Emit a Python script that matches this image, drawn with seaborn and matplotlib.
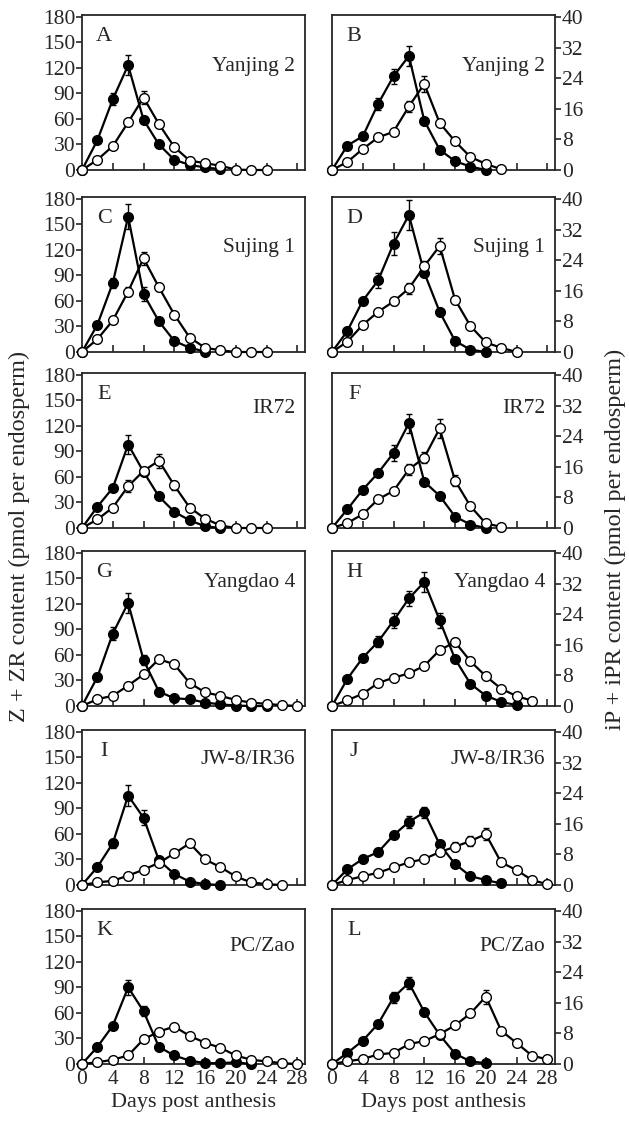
import numpy as np
import pandas as pd
import matplotlib
matplotlib.use("Agg")
import matplotlib.pyplot as plt
import seaborn as sns

# days post anthesis (every 2 days)
days = np.arange(0, 30, 2)

letters = ["A", "B", "C", "D", "E", "F", "G", "H", "I", "J", "K", "L"]
cultivars = ["Yanjing 2", "Sujing 1", "IR72", "Yangdao 4", "JW-8/IR36", "PC/Zao"]

# Z + ZR content (left column), filled = superior, open = inferior spikelets
zr_filled = {
    "Yanjing 2": [0, 35, 83, 123, 59, 30, 12, 6, 3, 1],
    "Sujing 1":  [0, 32, 81, 159, 68, 36, 13, 5, 0.5],
    "IR72":      [0, 25, 47, 98, 66, 37, 19, 9, 2, 0],
    "Yangdao 4": [0, 34, 85, 121, 54, 17, 9, 8, 4, 2, 0.5, 0, 0],
    "JW-8/IR36": [0, 21, 49, 105, 79, 29, 13, 4, 1, 0],
    "PC/Zao":    [0, 20, 45, 90, 62, 20, 10, 4, 1, 1, 2, 0],
}
zr_open = {
    "Yanjing 2": [0, 12, 28, 56, 85, 54, 27, 11, 8, 5, 0.5, 0, 0],
    "Sujing 1":  [0, 15, 37, 71, 110, 76, 44, 17, 5, 2, 0, 0, 0],
    "IR72":      [0, 10, 24, 49, 67, 79, 50, 24, 11, 3, 0, 0, 0],
    "Yangdao 4": [0, 8, 12, 24, 37, 55, 49, 27, 16, 12, 7, 4, 2.5, 1, 0],
    "JW-8/IR36": [0, 3, 5, 11, 18, 26, 37, 49, 30, 21, 10, 3, 1, 0],
    "PC/Zao":    [0, 2, 5, 10, 29, 38, 44, 33, 25, 19, 10, 5, 3, 1, 0],
}
zr_filled_err = {
    "Yanjing 2": [0, 2, 7, 12, 4, 0, 0, 0, 0, 0],
    "Sujing 1":  [0, 3, 6, 15, 8, 3, 0, 0, 0],
    "IR72":      [0, 0, 0, 11, 0, 0, 0, 0, 0, 0],
    "Yangdao 4": [0, 5, 8, 12, 6, 0, 0, 0, 0, 0, 0, 0, 0],
    "JW-8/IR36": [0, 0, 5, 12, 9, 0, 0, 0, 0, 0],
    "PC/Zao":    [0, 0, 0, 9, 6, 0, 0, 0, 0, 0, 0, 0],
}
zr_open_err = {
    "Yanjing 2": [0, 0, 0, 3, 8, 0, 0, 0, 0, 0, 0, 0, 0],
    "Sujing 1":  [0, 0, 0, 5, 8, 4, 3, 0, 0, 0, 0, 0, 0],
    "IR72":      [0, 0, 0, 7, 4, 8, 5, 4, 0, 0, 0, 0, 0],
    "Yangdao 4": [0] * 15,
    "JW-8/IR36": [0] * 14,
    "PC/Zao":    [0] * 15,
}

# iP + iPR content (right column)
ip_filled = {
    "Yanjing 2": [0, 6.4, 8.8, 17.3, 24.5, 29.8, 12.9, 5.3, 2.3, 0.9, 0],
    "Sujing 1":  [0, 5.5, 13.4, 18.7, 28.3, 35.8, 20.7, 10.5, 2.9, 0.6, 0],
    "IR72":      [0, 4.9, 10.0, 14.4, 19.6, 27.4, 12.1, 8.4, 3.0, 0.9, 0],
    "Yangdao 4": [0, 7.1, 12.6, 16.8, 22.3, 28.1, 32.4, 22.4, 12.3, 5.8, 2.7, 1.1, 0.2],
    "JW-8/IR36": [0, 4.1, 6.8, 8.6, 13.0, 16.5, 19.0, 10.6, 5.5, 2.3, 1.3, 0.4],
    "PC/Zao":    [0, 2.9, 6.1, 10.5, 17.4, 21.2, 13.6, 7.6, 2.7, 0.7, 0.2],
}
ip_open = {
    "Yanjing 2": [0, 2.1, 5.5, 8.5, 10.0, 16.6, 22.5, 12.3, 7.5, 3.4, 1.6, 0.2],
    "Sujing 1":  [0, 2.7, 7.1, 10.5, 13.2, 16.6, 22.4, 27.7, 13.7, 6.8, 2.5, 1.1, 0],
    "IR72":      [0, 1.3, 3.6, 7.5, 9.7, 15.3, 18.4, 26.0, 12.4, 5.7, 1.2, 0.3],
    "Yangdao 4": [0, 1.5, 3.2, 6.0, 7.4, 8.5, 10.5, 14.6, 16.7, 11.7, 7.8, 4.5, 2.6, 1.4],
    "JW-8/IR36": [0, 1.3, 2.3, 3.2, 4.6, 5.9, 6.8, 8.6, 10.0, 11.5, 13.3, 5.9, 3.9, 1.3, 0.2],
    "PC/Zao":    [0, 0.7, 1.3, 2.5, 2.9, 5.2, 6.0, 7.8, 10.1, 13.2, 17.6, 8.7, 5.5, 2.2, 1.2],
}
ip_filled_err = {
    "Yanjing 2": [0, 0, 0, 1.5, 2, 2.5, 0, 0, 0, 0, 0],
    "Sujing 1":  [0, 0, 0, 2, 3, 4, 0, 0, 0, 0, 0],
    "IR72":      [0, 0, 0, 0, 2, 2.5, 0, 0, 0, 0, 0],
    "Yangdao 4": [0, 0, 0, 1.5, 2, 2, 2.5, 2, 0, 0, 0, 0, 0],
    "JW-8/IR36": [0, 0, 0, 0, 0, 1.5, 1.5, 0, 0, 0, 0, 0],
    "PC/Zao":    [0, 0, 0, 0, 1.5, 1.5, 0, 0, 0, 0, 0],
}
ip_open_err = {
    "Yanjing 2": [0, 0, 0, 0, 0, 1.5, 2, 0, 0, 0, 0, 0],
    "Sujing 1":  [0, 0, 0, 0, 1, 1.5, 1.5, 2, 1, 0, 0, 0, 0],
    "IR72":      [0, 0, 0, 0, 0, 1.5, 1.5, 2.5, 1.5, 0, 0, 0],
    "Yangdao 4": [0, 0, 0, 0, 0, 0, 0, 1, 1, 0, 0, 0, 0, 0],
    "JW-8/IR36": [0, 0, 0, 0, 0, 0, 0, 0, 1.2, 1.2, 1.5, 0, 0, 0, 0],
    "PC/Zao":    [0, 0, 0, 0, 0, 0, 0, 0, 0, 1, 1.8, 0, 0, 0, 0],
}

sns.set_style("ticks")
plt.rcParams['font.family'] = ['Liberation Serif', 'DejaVu Serif']

fig = plt.figure(figsize=(6.29, 11.24), dpi=100)

W, H = 629, 1124
left_x, right_x, pw, ph = 82, 332, 223, 155
bottoms = [170, 352, 528, 706, 885, 1064]
name_y = [0.67, 0.675, 0.77, 0.8, 0.81, 0.755]


def draw(ax, vals, err, filled):
    x = days[:len(vals)]
    df = pd.DataFrame({"day": x, "val": vals})
    ax.errorbar(x, vals, yerr=err, fmt="none", ecolor="black",
                elinewidth=1.0, capsize=2.5, capthick=1.0, zorder=2)
    sns.lineplot(data=df, x="day", y="val", ax=ax, color="black", lw=1.6,
                 marker="o", markersize=7,
                 markerfacecolor="black" if filled else "white",
                 markeredgecolor="black", markeredgewidth=1.0,
                 clip_on=False, zorder=3 if filled else 4)


for row, cv in enumerate(cultivars):
    for col in range(2):
        x0 = left_x if col == 0 else right_x
        ax = fig.add_axes([x0 / W, 1 - bottoms[row] / H, pw / W, ph / H])
        if col == 0:
            ymax, step = 182, 30
            draw(ax, zr_filled[cv], zr_filled_err[cv], True)
            draw(ax, zr_open[cv], zr_open_err[cv], False)
        else:
            ymax, step = 40.5, 8
            draw(ax, ip_filled[cv], ip_filled_err[cv], True)
            draw(ax, ip_open[cv], ip_open_err[cv], False)
            ax.yaxis.tick_right()
        ax.set_xlim(0, 29)
        ax.set_ylim(0, ymax)
        ax.set_xticks(np.arange(0, 29, 4))
        ax.set_yticks(np.arange(0, ymax, step))
        ax.set_xlabel("")
        ax.set_ylabel("")
        for s in ax.spines.values():
            s.set_linewidth(1.3)
        ax.tick_params(axis="x", direction="in", length=5, width=1.2,
                       labelsize=15.5, pad=4, labelbottom=(row == 5))
        ax.tick_params(axis="y", direction="out", length=4, width=1.2,
                       labelsize=15.5, pad=1)
        ax.text(0.1, 0.86, letters[row * 2 + col], transform=ax.transAxes,
                fontsize=16, ha="center", va="center")
        ax.text(0.955, name_y[row], cv, transform=ax.transAxes, fontsize=15.5,
                ha="right", va="center")
        if row == 5:
            ax.set_xlabel("Days post anthesis", fontsize=16, labelpad=3)

fig.text(0.031, 0.523, "Z + ZR content (pmol per endosperm)", rotation=90,
         fontsize=17.5, ha="center", va="center")
fig.text(0.978, 0.52, "iP + iPR content (pmol per endosperm)", rotation=90,
         fontsize=17.5, ha="center", va="center")

fig.savefig("out.png", dpi=100, facecolor="white")
